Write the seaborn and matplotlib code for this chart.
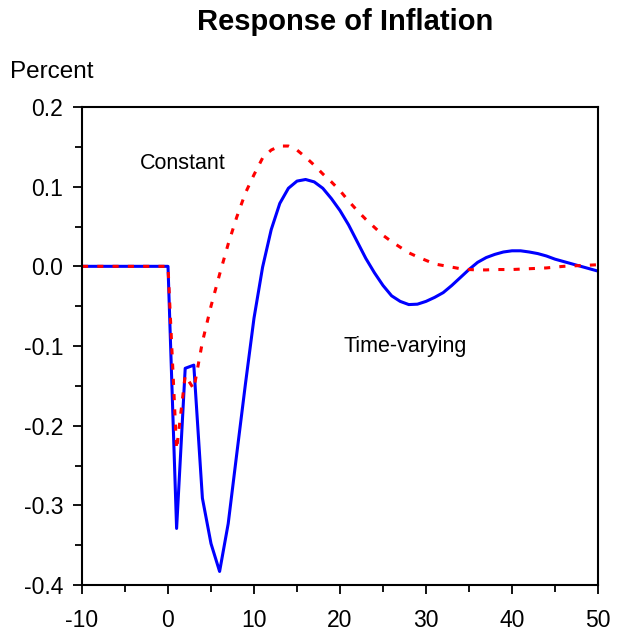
import matplotlib
matplotlib.use("Agg")
import matplotlib.pyplot as plt
from matplotlib.ticker import MultipleLocator
import numpy as np
import pandas as pd
import seaborn as sns

horizon = list(range(-10, 51))
time_varying = [0, 0, 0, 0, 0, 0, 0, 0, 0, 0, 0,
                -0.329, -0.128, -0.124, -0.291, -0.348, -0.383, -0.323, -0.235, -0.148, -0.065,
                -0.001, 0.046, 0.079, 0.098, 0.107, 0.109, 0.106, 0.098, 0.085, 0.070,
                0.052, 0.031, 0.010, -0.008, -0.024, -0.037, -0.044, -0.048, -0.0475, -0.044,
                -0.039, -0.033, -0.024, -0.014, -0.004, 0.005, 0.011, 0.015, 0.018, 0.0195,
                0.0195, 0.018, 0.016, 0.013, 0.009, 0.006, 0.003, 0.000, -0.003, -0.006]
constant = [0, 0, 0, 0, 0, 0, 0, 0, 0, 0, 0,
            -0.230, -0.137, -0.154, -0.095, -0.050, -0.010, 0.028, 0.062, 0.092, 0.115,
            0.136, 0.146, 0.151, 0.151, 0.146, 0.137, 0.127, 0.116, 0.106, 0.095,
            0.082, 0.070, 0.059, 0.049, 0.039, 0.031, 0.024, 0.017, 0.012, 0.0075,
            0.003, 0.001, -0.001, -0.003, -0.004, -0.0045, -0.0045, -0.004, -0.004, -0.004,
            -0.0035, -0.003, -0.0025, -0.002, -0.001, 0.0, 0.0005, 0.001, 0.0015, 0.002]
x_ticks = [-10, 0, 10, 20, 30, 40, 50]
y_ticks = [-0.4, -0.3, -0.2, -0.1, 0.0, 0.1, 0.2]
y_tick_labels = ["-0.4", "-0.3", "-0.2", "-0.1", "0.0", "0.1", "0.2"]
title = "Response of Inflation"
y_unit = "Percent"
label_constant = "Constant"
label_tv = "Time-varying"

sns.set_style("ticks")
plt.rcParams["font.family"] = ["Liberation Sans", "DejaVu Sans"]
plt.rcParams["axes.unicode_minus"] = False
plt.rcParams["text.color"] = "black"

df = pd.DataFrame({"h": horizon, "tv": time_varying, "c": constant})

fig = plt.figure(figsize=(6.24, 6.37), dpi=100)
ax = fig.add_axes([82 / 624, 1 - 585 / 637, (598 - 82) / 624, (585 - 107) / 637])

sns.lineplot(data=df, x="h", y="tv", ax=ax, color="#0000ff", linewidth=2.2)
sns.lineplot(data=df, x="h", y="c", ax=ax, color="#ff0000", linewidth=2.2,
             dashes=False)
ax.lines[-1].set_dashes([2.0, 3.0])

ax.set_xlim(-10, 50)
ax.set_ylim(-0.4, 0.2)
ax.set_xticks(x_ticks)
ax.set_xticklabels([str(v) for v in x_ticks])
ax.set_yticks(y_ticks)
ax.set_yticklabels(y_tick_labels)
ax.xaxis.set_minor_locator(MultipleLocator(5))
ax.yaxis.set_minor_locator(MultipleLocator(0.05))
ax.tick_params(axis="both", which="major", direction="out", length=6.5, width=1.3,
               labelsize=16.5, color="black", labelcolor="black")
ax.tick_params(axis="both", which="minor", direction="out", length=5, width=1.3,
               color="black")
ax.tick_params(axis="x", which="major", pad=11)
ax.tick_params(axis="y", which="major", pad=7)
for s in ax.spines.values():
    s.set_visible(True)
    s.set_linewidth(1.5)
    s.set_color("black")
ax.set_xlabel("")
ax.set_ylabel("")

ax.text(-3.26, 0.1297, label_constant, fontsize=15.5, va="center", ha="left",
        color="black")
ax.text(20.35, -0.100, label_tv, fontsize=15.5, va="center", ha="left",
        color="black")

fig.text(345 / 624, 1 - 22 / 637, title, fontsize=21, fontweight="bold",
         ha="center", va="center", color="black")
fig.text(10 / 624, 1 - 72 / 637, y_unit, fontsize=17.5, ha="left", va="center",
         color="black")

fig.savefig("out.png", dpi=100)
